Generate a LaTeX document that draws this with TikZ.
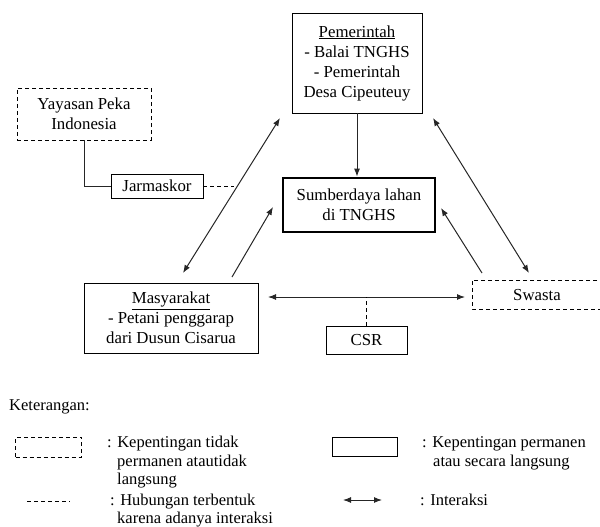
\documentclass[tikz,border=0pt]{standalone}
\usepackage{fontspec}
\setmainfont{Liberation Serif}
\newfontfamily\diagfont{Liberation Serif}
\usetikzlibrary{arrows.meta}
\begin{document}
\begin{tikzpicture}[x=1pt,y=-1pt,
  every node/.style={font=\diagfont\fontsize{16.8}{20}\selectfont, align=center, inner sep=0pt},
  solidbox/.style={draw, line width=0.9pt},
  dashbox/.style={draw, line width=0.9pt, dash pattern=on 4pt off 3pt},
  thickbox/.style={draw, line width=2.8pt},
  conn/.style={line width=1pt, black!85},
  tip/.style={-{Latex[length=8pt,width=6pt]}},
  dtip/.style={{Latex[length=8pt,width=6pt]}-{Latex[length=8pt,width=6pt]}},
  dline/.style={line width=0.9pt, dash pattern=on 4pt off 3pt},
  legtext/.style={font=\diagfont\fontsize{16.5}{18}\selectfont, anchor=base west, align=left}
]
\useasboundingbox (0,0) rectangle (600,527);

% main nodes
\node[solidbox, minimum width=130pt, minimum height=100pt] (pem) at (357,63)
  {\underline{Pemerintah}\\- Balai TNGHS\\- Pemerintah\\Desa Cipeuteuy};
\node[dashbox, minimum width=134pt, minimum height=52pt] (yay) at (84,114)
  {Yayasan Peka\\Indonesia};
\node[solidbox, minimum width=92pt, minimum height=24pt] (jar) at (157,186) {Jarmaskor};
\node[thickbox, minimum width=152pt, minimum height=54pt] (sum) at (359,205)
  {Sumberdaya lahan\\di TNGHS};
\node[solidbox, minimum width=174pt, minimum height=70pt] (mas) at (171,318)
  {\underline{Masyarakat}\\- Petani penggarap\\dari Dusun Cisarua};
\node (swa) at (537,295) {Swasta};
\draw[dline] (604,280) -- (472,280) -- (472,309) -- (604,309);
\node[solidbox, minimum width=81pt, minimum height=28pt] (csr) at (366.5,340) {CSR};

% free-end coordinates
\coordinate (a1) at (183,273);
\coordinate (a2) at (280,118);
\coordinate (b1) at (232,277);
\coordinate (b2) at (273,207);
\coordinate (c1) at (433,118);
\coordinate (c2) at (529,273);
\coordinate (d1) at (482,273);
\coordinate (d2) at (441,208);
\coordinate (h1) at (268,297);
\coordinate (h2) at (465,297);
\coordinate (j1) at (234,186);

% connectors
\draw[conn, tip] (pem.south) -- (pem.south |- sum.north);
\draw[conn, dtip] (a1) -- (a2);
\draw[conn, tip] (b1) -- (b2);
\draw[conn, dtip] (c1) -- (c2);
\draw[conn, tip] (d1) -- (d2);
\draw[conn, dtip] (h1) -- (h2);
\draw[conn] (yay.south) |- (jar.west);
\draw[dline] (jar.east) -- (j1);
\draw[dline] (csr.north) -- (csr.north |- h1);

% legend
\node[legtext] (ket) at (9,410) {Keterangan:};
\node[dashbox, minimum width=66pt, minimum height=20pt] (lg1) at (48.5,447) {};
\node[legtext] (lt1a) at (107,447) {: Kepentingan tidak};
\node[legtext] (lt1b) at (117,466) {permanen atautidak};
\node[legtext] (lt1c) at (117,484) {langsung};
\coordinate (lg2a) at (27,501);
\coordinate (lg2b) at (70,501);
\draw[dline] (lg2a) -- (lg2b);
\node[legtext] (lt2a) at (110,505) {: Hubungan terbentuk};
\node[legtext] (lt2b) at (117,523) {karena adanya interaksi};
\node[solidbox, minimum width=65pt, minimum height=19pt] (lg3) at (364.5,446.5) {};
\node[legtext] (lt3a) at (422,447) {: Kepentingan permanen};
\node[legtext] (lt3b) at (433,466) {atau secara langsung};
\coordinate (lg4a) at (343,500);
\coordinate (lg4b) at (382,500);
\draw[conn, dtip] (lg4a) -- (lg4b);
\node[legtext] (lt4) at (420,505) {: Interaksi};
\end{tikzpicture}
\end{document}
